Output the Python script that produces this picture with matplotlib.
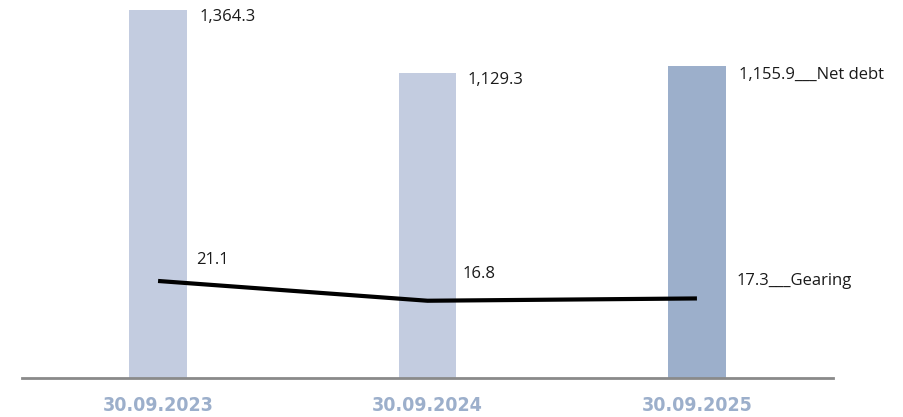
import matplotlib.pyplot as plt
import numpy as np
from matplotlib import font_manager

# data
dates = ['30.09.2023', '30.09.2024', '30.09.2025']
net_debt = [1364.3, 1129.3, 1155.9]
gearing = [21.1, 16.8, 17.3]
debt_labels = ['1,364.3', '1,129.3', '1,155.9___Net debt']
gear_labels = ['21.1', '16.8', '17.3___Gearing']

plt.rcParams['font.family'] = ['Open Sans', 'DejaVu Sans']

fig = plt.figure(figsize=(9.04, 4.17), dpi=100)
ax = fig.add_axes([22 / 904, 39 / 417, 811 / 904, 378 / 417])
ax2 = ax.twinx()

x = np.arange(len(dates))
w = 0.215
bar_colors = ['#c3cce0', '#c3cce0', '#9cafcb']
ax.bar(x, net_debt, width=w, color=bar_colors, zorder=1)
ax.set_xlim(-0.505, 2.505)
ax.set_ylim(0, 1401.4)

ax2.plot(x, gearing, color='black', linewidth=3, solid_capstyle='butt', zorder=3)
ax2.set_ylim(0, 82.2)

# value labels (offsets in pixels)
debt_off = [(13, -7), (11, -7), (13, -9)]
for i, (v, t) in enumerate(zip(net_debt, debt_labels)):
    ax.annotate(t, xy=(x[i] + w / 2, v), xytext=debt_off[i], textcoords='offset pixels',
                ha='left', va='center', fontsize=12, color='#1a1a1a')

gear_off = [(38, 21), (35, 27), (40, 17)]
for i, (v, t) in enumerate(zip(gearing, gear_labels)):
    ax2.annotate(t, xy=(x[i], v), xytext=gear_off[i], textcoords='offset pixels',
                 ha='left', va='center', fontsize=12, color='#1a1a1a')

for a in (ax, ax2):
    for s in ['top', 'right', 'left']:
        a.spines[s].set_visible(False)
    a.set_yticks([])
ax2.spines['bottom'].set_visible(False)
ax.spines['bottom'].set_color('#8a8a8a')
ax.spines['bottom'].set_linewidth(2)

# condensed bold for the dates, if available
names = {f.name for f in font_manager.fontManager.ttflist}
date_font = 'Liberation Sans Narrow' if 'Liberation Sans Narrow' in names else 'DejaVu Sans'

ax.set_xticks(x)
ax.set_xticklabels(dates, fontsize=14, fontweight='bold', color='#9cafcb',
                   family=date_font, fontstretch='condensed')
ax.tick_params(axis='x', length=0, pad=13)

fig.savefig('out.png', dpi=100)
